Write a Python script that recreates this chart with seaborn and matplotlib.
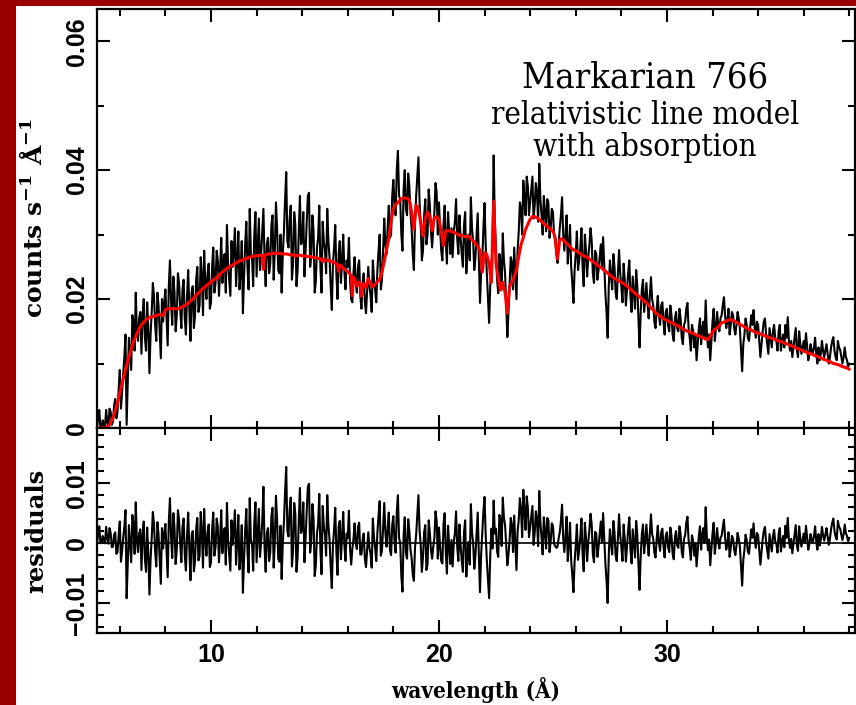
import numpy as np
import pandas as pd
import matplotlib
matplotlib.use("Agg")
import matplotlib.pyplot as plt
import seaborn as sns
from matplotlib.ticker import MultipleLocator, FixedLocator, FixedFormatter

sns.set_theme(style="white")
plt.rcParams['font.family'] = ['DejaVu Serif']
plt.rcParams['mathtext.fontset'] = 'dejavuserif'
plt.rcParams.update({'text.color': 'black', 'axes.labelcolor': 'black',
                     'xtick.color': 'black', 'ytick.color': 'black'})

# ---------------- data (units of 1e-3 counts s^-1 A^-1), 0.05 A bins from 5.0 to 38.0 A
wl_first, wl_last = 5.0, 38.0

data_counts = [
    0.0, 1.5, 2.8, 0.0, 0.0, 1.2, 0.5, 0.0, 2.8, 1.0, 0.2, 3.0, 2.5, 0.5, 1.0, 3.5, 4.5, 1.5, 2.5, 6.0,
    9.0, 3.0, 5.5, 8.5, 11.0, 14.5, 0.5, 7.0, 14.0, 11.5, 9.0, 17.5, 16.5, 12.0, 21.0, 15.0, 13.5, 17.0, 18.0, 11.5,
    17.5, 20.0, 14.0, 12.0, 19.5, 15.5, 8.5, 14.5, 18.0, 22.5, 20.5, 16.0, 13.5, 21.0, 19.0, 15.0, 10.8, 20.0, 16.5, 19.5,
    21.5, 17.0, 12.8, 22.0, 26.0, 19.5, 16.0, 23.5, 21.0, 15.0, 17.5, 24.0, 22.5, 18.5, 15.5, 21.5, 23.0, 17.0, 14.5, 20.5,
    24.5, 18.5, 13.5, 21.0, 22.0, 15.5, 17.5, 23.0, 25.0, 18.0, 19.0, 26.5, 23.5, 17.5, 27.5, 22.5, 20.0, 24.0, 25.5, 18.5,
    19.5, 25.0, 28.0, 21.0, 22.5, 27.5, 26.0, 20.5, 24.5, 29.5, 22.5, 26.0, 27.0, 21.0, 31.5, 25.5, 23.0, 20.5, 29.0, 25.0,
    27.5, 31.0, 22.0, 26.0, 30.5, 21.5, 24.0, 29.0, 17.8, 23.5, 28.5, 32.0, 25.0, 21.5, 34.0, 27.0, 26.5, 22.0, 30.0, 33.5,
    23.5, 28.0, 32.5, 24.5, 27.0, 30.5, 34.0, 26.0, 22.0, 28.5, 29.5, 24.0, 25.5, 31.5, 33.0, 23.0, 27.5, 35.0, 31.0, 24.5,
    24.0, 30.0, 21.0, 27.0, 30.5, 35.5, 39.7, 29.0, 28.0, 32.5, 34.5, 23.0, 25.5, 33.5, 31.5, 22.0, 24.5, 30.0, 36.0, 28.5,
    29.0, 33.5, 23.5, 27.5, 32.0, 36.0, 36.5, 25.0, 27.0, 33.0, 30.5, 21.0, 22.8, 28.0, 29.5, 34.5, 25.0, 21.0, 32.0, 29.0,
    27.5, 24.0, 34.0, 29.0, 26.5, 22.0, 18.3, 25.5, 28.0, 31.5, 24.0, 20.0, 27.0, 29.0, 22.5, 26.0, 30.0, 24.5, 21.5, 26.0,
    25.0, 29.5, 23.0, 20.0, 19.5, 24.0, 26.5, 22.5, 21.0, 25.0, 26.0, 20.5, 18.5, 22.5, 24.0, 19.5, 17.8, 21.5, 25.0, 22.0,
    20.5, 18.0, 26.0, 23.0, 21.5, 19.5, 24.5, 27.5, 30.0, 21.5, 23.0, 27.5, 32.5, 28.5, 27.0, 31.0, 34.5, 29.5, 30.0, 36.0,
    38.5, 34.5, 33.0, 40.0, 43.0, 36.0, 35.5, 30.0, 27.5, 37.0, 40.0, 34.0, 33.0, 39.5, 37.5, 33.5, 31.0, 27.0, 24.5, 32.0,
    36.0, 39.0, 42.0, 35.0, 31.5, 26.0, 27.5, 33.0, 35.5, 28.5, 30.0, 37.0, 34.5, 30.5, 28.0, 31.0, 33.5, 38.0, 36.5, 30.0,
    35.0, 31.0, 27.5, 26.0, 31.5, 34.5, 29.0, 25.5, 33.5, 30.0, 27.0, 31.0, 26.5, 30.5, 32.0, 35.5, 29.5, 27.0, 33.0, 29.5,
    27.0, 25.0, 31.5, 33.5, 24.0, 28.0, 30.0, 26.0, 35.8, 31.0, 29.0, 24.5, 26.5, 30.0, 33.3, 26.0, 19.4, 24.0, 26.0, 31.0,
    34.9, 28.5, 24.0, 20.0, 16.3, 22.0, 25.0, 28.0, 42.3, 32.0, 28.0, 23.0, 20.9, 27.0, 25.5, 21.5, 30.2, 26.0, 24.0, 19.0,
    14.1, 18.0, 22.5, 26.5, 25.6, 21.5, 28.0, 24.0, 20.0, 27.5, 30.5, 35.0, 34.0, 30.0, 38.4, 35.5, 33.0, 39.0, 37.5, 33.0,
    35.0, 37.0, 39.0, 32.5, 34.5, 38.0, 36.5, 32.0, 41.0, 35.5, 33.0, 30.0, 36.0, 33.5, 30.5, 35.5, 34.9, 29.5, 31.0, 34.0,
    33.5, 30.0, 29.0, 27.0, 25.6, 28.5, 31.0, 33.0, 35.8, 30.0, 27.5, 30.0, 33.0, 25.5, 28.0, 31.5, 25.0, 22.5, 19.4, 24.5,
    27.0, 30.5, 24.5, 26.0, 28.0, 31.0, 25.0, 22.0, 30.0, 27.5, 23.5, 26.5, 28.5, 31.0, 29.0, 24.0, 22.5, 27.5, 27.0, 23.0,
    24.5, 26.5, 28.5, 25.0, 29.6, 25.5, 21.0, 18.0, 14.0, 22.0, 26.0, 23.5, 21.5, 27.0, 25.0, 21.0, 20.0, 24.0, 27.6, 24.0,
    22.0, 19.5, 25.5, 23.0, 19.0, 21.5, 24.0, 26.0, 20.5, 18.0, 23.5, 21.0, 18.5, 24.5, 22.0, 17.0, 12.5, 18.0, 21.5, 23.0,
    18.0, 20.0, 22.5, 19.5, 17.0, 20.5, 23.4, 20.0, 19.0, 16.5, 15.5, 18.5, 20.5, 17.5, 16.0, 19.0, 19.5, 16.5, 14.5, 18.0,
    18.5, 16.0, 15.0, 19.0, 17.5, 14.5, 13.5, 17.0, 18.0, 15.5, 15.0, 18.5, 17.0, 14.0, 13.0, 16.0, 16.5, 18.5, 19.4, 15.5,
    14.0, 12.0, 16.0, 15.0, 12.5, 14.5, 10.5, 13.0, 15.5, 17.0, 13.0, 15.5, 16.5, 14.0, 19.8, 15.0, 12.5, 14.5, 10.5, 13.5,
    16.5, 18.5, 13.5, 15.5, 18.0, 16.0, 15.0, 17.0, 17.5, 19.0, 20.3, 17.5, 15.5, 16.5, 18.5, 14.5, 16.0, 18.0, 17.5, 15.5,
    14.5, 16.0, 18.0, 17.0, 15.5, 12.0, 8.8, 13.0, 14.5, 17.0, 16.0, 14.0, 13.5, 15.5, 17.5, 16.0, 18.3, 15.5, 14.0, 16.5,
    16.0, 13.5, 11.0, 13.0, 15.0, 16.5, 17.0, 14.5, 13.0, 11.5, 15.5, 14.0, 12.5, 15.0, 16.0, 14.0, 13.5, 12.0, 15.0, 16.0,
    12.0, 13.5, 14.5, 12.5, 16.0, 14.0, 17.2, 13.5, 12.0, 13.5, 11.0, 12.5, 14.0, 15.5, 12.0, 11.0, 15.0, 13.0, 11.5, 12.5,
    13.5, 12.0, 14.7, 12.5, 10.5, 11.5, 13.0, 12.0, 11.5, 12.5, 14.0, 11.5, 10.0, 12.5, 10.5, 11.5, 13.5, 12.0, 11.0, 12.0,
    13.0, 11.5, 10.0, 11.0, 12.5, 13.5, 14.1, 12.0, 11.0, 10.5, 13.5, 12.5, 12.1, 11.0, 10.0, 11.0, 12.5, 11.0, 10.5, 9.5,
    10.0,
]

model_counts = [
    0.0, 0.0, 0.0, 0.0, 0.0, 0.0, 0.0, 0.05, 0.1, 0.2, 0.3, 0.5, 0.8, 1.2, 1.6, 2.1, 2.7, 3.3, 4.0, 4.7,
    5.4, 6.1, 6.9, 7.6, 8.3, 9.0, 9.7, 10.4, 11.0, 11.6, 12.2, 12.8, 13.3, 13.8, 14.2, 14.6, 15.0, 15.4, 15.7, 16.0,
    16.2, 16.4, 16.6, 16.8, 16.9, 17.0, 17.1, 17.2, 17.2, 17.3, 17.3, 17.4, 17.4, 17.5, 17.6, 17.6, 17.6, 17.5, 17.4, 17.9,
    18.3, 18.4, 18.5, 18.5, 18.5, 18.5, 18.5, 18.5, 18.5, 18.5, 18.5, 18.5, 18.6, 18.6, 18.7, 18.8, 18.9, 19.0, 19.1, 19.2,
    19.4, 19.5, 19.7, 19.8, 20.0, 20.2, 20.4, 20.6, 20.8, 20.9, 21.1, 21.3, 21.5, 21.6, 21.8, 21.9, 22.1, 22.2, 22.4, 22.5,
    22.7, 22.8, 22.9, 23.1, 23.2, 23.4, 23.3, 23.7, 23.9, 24.0, 24.2, 24.3, 24.5, 24.6, 24.8, 24.9, 25.0, 25.1, 25.2, 25.3,
    25.4, 25.5, 25.6, 25.7, 25.8, 25.9, 26.0, 26.0, 26.1, 26.2, 26.3, 26.3, 26.4, 26.4, 26.5, 26.5, 26.6, 26.6, 26.7, 26.7,
    26.7, 26.7, 26.8, 26.8, 26.8, 26.8, 24.6, 26.8, 26.8, 26.9, 27.0, 27.0, 27.0, 27.0, 27.1, 27.1, 27.1, 27.1, 27.1, 27.1,
    27.1, 27.1, 27.0, 27.0, 27.0, 27.0, 27.0, 27.0, 26.9, 26.9, 26.9, 26.9, 26.8, 26.8, 26.6, 26.8, 26.8, 26.8, 26.8, 26.8,
    26.7, 26.7, 26.7, 26.7, 26.6, 26.6, 26.6, 26.6, 26.5, 26.5, 26.5, 26.5, 26.4, 26.4, 26.3, 26.3, 26.2, 26.2, 25.8, 26.2,
    26.1, 26.1, 26.0, 26.0, 25.9, 25.9, 25.8, 25.8, 25.7, 25.6, 25.4, 25.3, 24.3, 25.3, 25.2, 25.0, 24.8, 24.7, 24.5, 24.4,
    24.2, 24.1, 23.9, 23.6, 20.5, 23.4, 23.2, 22.6, 22.0, 22.3, 22.6, 22.4, 20.4, 22.0, 22.4, 22.1, 21.8, 22.5, 23.2, 22.8,
    22.3, 22.1, 21.9, 22.1, 22.3, 22.5, 22.7, 22.9, 23.0, 23.6, 24.2, 25.0, 25.8, 26.7, 27.6, 28.5, 29.4, 30.7, 32.0, 33.0,
    34.0, 34.3, 34.6, 34.8, 35.0, 35.2, 35.4, 35.5, 35.6, 35.7, 35.7, 35.7, 35.6, 35.5, 35.4, 34.5, 33.5, 32.2, 30.8, 32.7,
    34.6, 34.3, 34.0, 32.9, 31.8, 30.8, 29.8, 31.2, 32.5, 33.0, 33.5, 33.2, 32.8, 31.7, 30.6, 31.6, 32.6, 32.7, 32.8, 32.6,
    32.4, 31.5, 30.5, 29.4, 28.3, 29.5, 30.6, 30.6, 30.6, 30.6, 30.5, 30.5, 30.4, 30.4, 30.3, 30.2, 30.1, 30.0, 29.9, 29.9,
    29.9, 29.8, 29.7, 29.7, 29.6, 29.7, 29.8, 29.6, 29.3, 29.2, 29.0, 28.8, 28.6, 28.4, 28.2, 27.9, 27.6, 25.9, 24.2, 25.7,
    27.2, 27.1, 26.9, 26.2, 25.5, 24.1, 22.6, 28.9, 35.2, 30.4, 25.6, 24.4, 23.2, 22.3, 21.4, 22.0, 22.6, 21.8, 21.0, 19.4,
    17.8, 19.9, 21.9, 22.3, 22.6, 23.0, 23.4, 24.0, 24.5, 25.6, 26.6, 27.5, 28.4, 29.0, 29.5, 30.2, 30.8, 31.2, 31.6, 32.0,
    32.4, 32.6, 32.8, 32.8, 32.8, 32.7, 32.6, 32.5, 32.3, 32.2, 32.0, 31.9, 31.7, 31.6, 31.4, 31.3, 31.1, 31.0, 30.8, 30.7,
    30.6, 30.1, 29.5, 27.8, 26.2, 27.7, 29.2, 29.3, 29.4, 29.2, 29.0, 28.8, 28.6, 28.5, 28.3, 28.1, 27.9, 27.8, 27.6, 27.6,
    27.5, 27.4, 27.3, 27.2, 27.0, 26.9, 26.8, 26.7, 26.6, 26.6, 26.5, 26.4, 26.2, 26.1, 25.9, 25.8, 25.7, 25.6, 25.4, 25.3,
    25.1, 25.0, 24.9, 24.8, 24.6, 24.5, 24.3, 24.2, 24.0, 23.9, 23.7, 23.6, 23.4, 23.3, 23.2, 23.1, 23.0, 22.9, 22.8, 22.7,
    22.6, 22.5, 22.4, 22.3, 22.1, 22.0, 21.8, 21.7, 21.5, 21.4, 21.2, 21.1, 20.9, 20.8, 20.6, 20.5, 20.3, 20.2, 20.0, 19.9,
    19.7, 19.6, 19.4, 19.3, 19.1, 18.9, 18.6, 18.5, 18.3, 18.1, 17.9, 17.8, 17.6, 17.5, 17.3, 17.2, 17.1, 17.0, 16.9, 16.8,
    16.7, 16.6, 16.5, 16.4, 16.3, 16.3, 16.2, 16.1, 16.0, 15.9, 15.8, 15.7, 15.6, 15.5, 15.4, 15.3, 15.2, 15.1, 15.0, 15.0,
    14.9, 14.8, 14.7, 14.7, 14.6, 14.5, 14.4, 14.4, 14.3, 14.2, 14.1, 14.1, 14.0, 13.9, 13.8, 13.8, 13.7, 13.9, 14.2, 14.6,
    14.9, 15.1, 15.3, 15.4, 15.5, 15.7, 15.9, 16.1, 16.3, 16.4, 16.4, 16.5, 16.6, 16.7, 16.7, 16.8, 16.8, 16.8, 16.7, 16.6,
    16.5, 16.4, 16.3, 16.2, 16.1, 16.0, 15.9, 15.8, 15.7, 15.6, 15.5, 15.4, 15.3, 15.3, 15.2, 15.1, 15.0, 14.9, 14.8, 14.8,
    14.7, 14.7, 14.6, 14.5, 14.4, 14.4, 14.3, 14.3, 14.2, 14.1, 14.0, 14.0, 13.9, 13.9, 13.8, 13.7, 13.6, 13.6, 13.5, 13.5,
    13.4, 13.4, 13.3, 13.2, 13.1, 13.1, 13.0, 12.9, 12.8, 12.8, 12.7, 12.6, 12.5, 12.5, 12.4, 12.3, 12.2, 12.2, 12.1, 12.0,
    11.9, 11.9, 11.8, 11.7, 11.6, 11.6, 11.5, 11.5, 11.4, 11.3, 11.2, 11.2, 11.1, 11.0, 10.9, 10.9, 10.8, 10.7, 10.6, 10.6,
    10.5, 10.4, 10.3, 10.3, 10.2, 10.1, 10.0, 10.0, 9.9, 9.9, 9.8, 9.8, 9.7, 9.6, 9.5, 9.5, 9.4, 9.4, 9.3, 9.2,
    9.1,
]

x_major_ticks = [10, 20, 30]
x_tick_labels = ['10', '20', '30']
flux_ticks = [0.0, 0.02, 0.04, 0.06]
flux_tick_labels = ['0', '0.02', '0.04', '0.06']
resid_ticks = [-0.01, 0.0, 0.01]
resid_tick_labels = ['\u22120.01', '0', '0.01']
title_lines = ['Markarian 766', 'relativistic line model', 'with absorption']

# ---------------- table
n = min(len(data_counts), len(model_counts))
wavelength = np.linspace(wl_first, wl_last, n)
df = pd.DataFrame({
    'wavelength': wavelength,
    'counts': np.array(data_counts[:n]) * 1e-3,
    'model': np.array(model_counts[:n]) * 1e-3,
})
df['residuals'] = df['counts'] - df['model']

# ---------------- figure
W, H = 856, 705
fig = plt.figure(figsize=(W / 100, H / 100), dpi=100)
fig.patch.set_facecolor('#990000')
fig.add_artist(plt.Rectangle((16 / W, 0), 1 - 16 / W, 1 - 6 / H, transform=fig.transFigure,
                             facecolor='white', edgecolor='none', zorder=-5))

left_px, right_px = 97, 855
top_px, mid_px, bot_px = 9, 428, 633
ax1 = fig.add_axes([left_px / W, 1 - mid_px / H, (right_px - left_px) / W, (mid_px - top_px) / H])
ax2 = fig.add_axes([left_px / W, 1 - bot_px / H, (right_px - left_px) / W, (bot_px - mid_px) / H],
                   sharex=ax1)

sns.lineplot(data=df, x='wavelength', y='counts', ax=ax1, color='black', lw=1.5,
             estimator=None, sort=False)
sns.lineplot(data=df, x='wavelength', y='model', ax=ax1, color='#ff0000', lw=2.2,
             estimator=None, sort=False)
ax2.axhline(0, color='black', lw=1.2)
sns.lineplot(data=df, x='wavelength', y='residuals', ax=ax2, color='black', lw=1.5,
             estimator=None, sort=False)

ax1.set_xlim(5.0, 38.25)
ax1.set_ylim(0, 0.065)
ax2.set_ylim(-0.015, 0.0192)

tick_font = dict(family='Liberation Sans', weight='bold', size=18)
for ax in (ax1, ax2):
    ax.set_facecolor('white')
    for s in ax.spines.values():
        s.set_linewidth(1.6)
        s.set_color('black')
    ax.tick_params(which='both', direction='in', top=True, right=True, bottom=True, left=True,
                   width=1.5, color='black')
    ax.tick_params(which='major', length=9.5)
    ax.tick_params(which='minor', length=5)
    ax.xaxis.set_major_locator(FixedLocator(x_major_ticks))
    ax.xaxis.set_minor_locator(MultipleLocator(2))
    ax.set_xlabel('')
    ax.set_ylabel('')

ax1.tick_params(axis='x', labelbottom=False)
ax1.yaxis.set_major_locator(FixedLocator(flux_ticks))
ax1.yaxis.set_major_formatter(FixedFormatter(flux_tick_labels))
ax1.yaxis.set_minor_locator(MultipleLocator(0.01))
ax2.yaxis.set_major_locator(FixedLocator(resid_ticks))
ax2.yaxis.set_major_formatter(FixedFormatter(resid_tick_labels))
ax2.yaxis.set_minor_locator(MultipleLocator(0.002))
ax2.xaxis.set_major_formatter(FixedFormatter(x_tick_labels))
ax2.tick_params(axis='x', pad=7)

for ax in (ax1, ax2):
    ax.tick_params(axis='y', pad=6)
    for lab in ax.get_yticklabels():
        lab.set_fontproperties(tick_font)
        lab.set_rotation(90)
        lab.set_va('center')
for lab in ax2.get_xticklabels():
    lab.set_fontproperties(tick_font)

label_font = dict(family='DejaVu Serif', weight='bold')
ax1.set_ylabel(r'counts s$^{\mathbf{-1}}$ Å$^{\mathbf{-1}}$', fontsize=18, **label_font)
ax1.yaxis.set_label_coords((33 - left_px) / (right_px - left_px), 0.5)
ax2.set_ylabel('residuals', fontsize=17.5, **label_font)
ax2.yaxis.set_label_coords((36 - left_px) / (right_px - left_px), 0.5)
ax2.set_xlabel('wavelength (Å)', fontsize=16, stretch='condensed', **label_font)
ax2.xaxis.set_label_coords(0.5, -(690 - bot_px) / (bot_px - mid_px))
for lab in (ax1.yaxis.label, ax2.yaxis.label, ax2.xaxis.label):
    lab.set_va('center')
    lab.set_ha('center')

title_font = dict(family='DejaVu Serif', stretch='condensed', ha='center', va='baseline',
                  transform=ax1.transAxes, color='black')
cx = (645 - left_px) / (right_px - left_px)
ax1.text(cx, 1 - (87 - top_px) / (mid_px - top_px), title_lines[0], fontsize=26, **title_font)
ax1.text(cx, 1 - (124 - top_px) / (mid_px - top_px), title_lines[1], fontsize=22.5, **title_font)
ax1.text(cx, 1 - (156 - top_px) / (mid_px - top_px), title_lines[2], fontsize=22.5, **title_font)

fig.savefig('out.png', dpi=100, facecolor=fig.get_facecolor())
